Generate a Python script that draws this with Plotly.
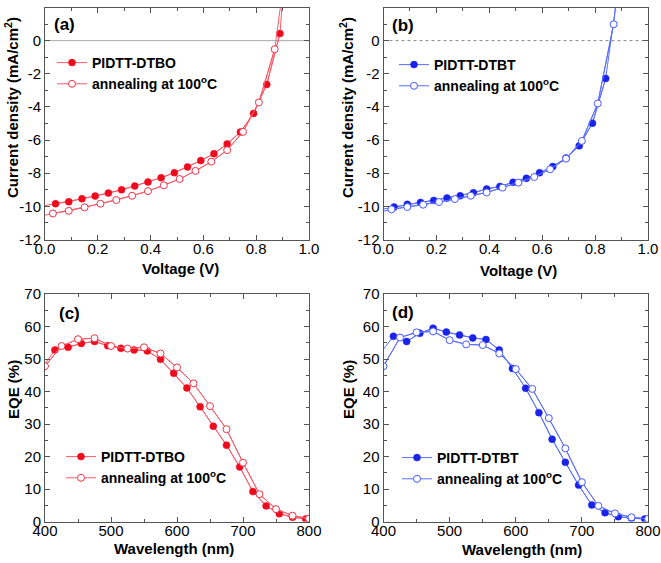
import plotly.graph_objects as go

# ---------------- data ----------------
# (a) J-V, PIDTT-DTBO (first/last points are line-only)
V_a1 = [0.0, 0.04, 0.09, 0.14, 0.19, 0.24, 0.29, 0.34, 0.39, 0.44, 0.49, 0.54, 0.59, 0.64, 0.69, 0.74, 0.79, 0.84, 0.89, 0.905]
J_a1 = [-9.95, -9.84, -9.72, -9.54, -9.38, -9.20, -9.00, -8.77, -8.53, -8.27, -7.97, -7.62, -7.24, -6.82, -6.23, -5.52, -4.39, -2.64, 0.43, 3.5]
V_a2 = [0.0, 0.03, 0.09, 0.15, 0.21, 0.27, 0.33, 0.39, 0.45, 0.51, 0.57, 0.63, 0.69, 0.75, 0.81, 0.87, 0.90]
J_a2 = [-10.53, -10.43, -10.27, -10.06, -9.84, -9.62, -9.36, -9.08, -8.73, -8.35, -7.86, -7.30, -6.61, -5.50, -3.73, -0.52, 3.0]
# (b) J-V, PIDTT-DTBT
V_b1 = [0.0, 0.04, 0.09, 0.14, 0.19, 0.24, 0.29, 0.34, 0.39, 0.44, 0.49, 0.54, 0.59, 0.64, 0.69, 0.74, 0.79, 0.84, 0.89]
J_b1 = [-10.16, -10.04, -9.88, -9.76, -9.64, -9.50, -9.36, -9.18, -8.95, -8.80, -8.55, -8.31, -7.97, -7.60, -7.08, -6.35, -4.98, -2.28, 3.5]
V_b2 = [0.0, 0.03, 0.09, 0.15, 0.21, 0.27, 0.33, 0.39, 0.45, 0.51, 0.57, 0.63, 0.69, 0.75, 0.81, 0.87, 0.885]
J_b2 = [-10.29, -10.18, -10.04, -9.90, -9.74, -9.56, -9.36, -9.16, -8.87, -8.57, -8.23, -7.76, -7.12, -6.05, -3.79, 0.99, 3.2]
# (c) EQE, PIDTT-DTBO
WL_f = [400, 415, 435, 455, 475, 495, 515, 535, 555, 575, 595, 615, 635, 655, 675, 695, 715, 735, 755, 775, 795, 800]
EQE_c1 = [48.5, 52.8, 53.6, 54.8, 55.4, 54.1, 53.3, 52.8, 52.5, 49.9, 45.6, 41.1, 35.3, 29.3, 23.5, 16.8, 9.2, 4.8, 2.4, 1.3, 0.8, 0.7]
WL_o = [400, 425, 450, 475, 500, 525, 550, 575, 600, 625, 650, 675, 700, 725, 750, 775, 800]
EQE_c2 = [47.8, 54.0, 56.1, 56.4, 54.0, 53.2, 53.6, 51.7, 47.4, 42.5, 35.5, 28.4, 18.1, 8.4, 3.8, 1.8, 0.9]
# (d) EQE, PIDTT-DTBT
EQE_d1 = [53.0, 57.0, 55.4, 57.9, 59.5, 58.3, 57.4, 56.5, 56.0, 52.8, 47.1, 41.0, 33.5, 25.3, 18.2, 11.2, 5.1, 2.7, 1.5, 1.0, 0.8, 0.7]
EQE_d2 = [47.8, 56.6, 58.2, 58.5, 55.8, 54.5, 54.3, 51.7, 46.9, 40.8, 31.8, 22.5, 12.1, 4.8, 2.5, 1.3, 0.8]

JV_TICKS = [-12, -10, -8, -6, -4, -2, 0, 2]
JV_TICKTEXT = ["-12", "-10", "-8", "-6", "-4", "-2", "0", "2"]
V_TICKS = [0.0, 0.2, 0.4, 0.6, 0.8, 1.0]
V_TICKTEXT = ["0.0", "0.2", "0.4", "0.6", "0.8", "1.0"]
EQE_TICKS = [0, 10, 20, 30, 40, 50, 60, 70]
WL_TICKS = [400, 500, 600, 700, 800]

NAME_O = "PIDTT-DTBO"
NAME_T = "PIDTT-DTBT"
NAME_ANN = "annealing at 100<sup>o</sup>C"

# ---------------- styles ----------------
FONT = "Liberation Sans, Arial, sans-serif"
RED_LINE = "rgb(250,90,105)"
RED_FILL = "rgb(240,10,30)"
RED_OPEN = "rgb(240,50,70)"
BLUE_LINE = "rgb(90,110,255)"
BLUE_FILL = "rgb(25,35,235)"
BLUE_OPEN = "rgb(70,90,255)"
FRAME = "#555555"
MS = 7

W, H = 661, 563
def px_x(p):
    return p / W
def px_y(p):
    return 1 - p / H

fig = go.Figure()

def add_series(x, y, xa, ya, line_col, mk_col, filled, name, legend, trim_start, trim_end):
    # full line (including line-only ends)
    fig.add_trace(go.Scatter(x=x, y=y, mode="lines", xaxis=xa, yaxis=ya,
                             line=dict(color=line_col, width=1), showlegend=False,
                             hoverinfo="skip"))
    xs = x[(1 if trim_start else 0):(len(x) - 1 if trim_end else len(x))]
    ys = y[(1 if trim_start else 0):(len(y) - 1 if trim_end else len(y))]
    if filled:
        marker = dict(symbol="circle", size=MS, color=mk_col, line=dict(color=mk_col, width=0.5))
    else:
        marker = dict(symbol="circle", size=MS, color="white", line=dict(color=mk_col, width=1))
    fig.add_trace(go.Scatter(x=xs, y=ys, mode="lines+markers", xaxis=xa, yaxis=ya,
                             line=dict(color=line_col, width=1), marker=marker,
                             name=name, legend=legend, showlegend=True, cliponaxis=True))

add_series(V_a1, J_a1, "x", "y", RED_LINE, RED_FILL, True, NAME_O, "legend", True, True)
add_series(V_a2, J_a2, "x", "y", RED_LINE, RED_OPEN, False, NAME_ANN, "legend", True, True)
add_series(V_b1, J_b1, "x2", "y2", BLUE_LINE, BLUE_FILL, True, NAME_T, "legend2", True, True)
add_series(V_b2, J_b2, "x2", "y2", BLUE_LINE, BLUE_OPEN, False, NAME_ANN, "legend2", True, True)
add_series(WL_f, EQE_c1, "x3", "y3", RED_LINE, RED_FILL, True, NAME_O, "legend3", True, True)
add_series(WL_o, EQE_c2, "x3", "y3", RED_LINE, RED_OPEN, False, NAME_ANN, "legend3", False, False)
add_series(WL_f, EQE_d1, "x4", "y4", BLUE_LINE, BLUE_FILL, True, NAME_T, "legend4", True, True)
add_series(WL_o, EQE_d2, "x4", "y4", BLUE_LINE, BLUE_OPEN, False, NAME_ANN, "legend4", False, False)

def axis_style(**kw):
    d = dict(showline=True, linecolor=FRAME, linewidth=1, mirror="allticks",
             ticks="inside", ticklen=5, tickwidth=1, tickcolor=FRAME,
             showgrid=False, zeroline=False, automargin=False,
             tickfont=dict(family=FONT, size=15, color="black"))
    d.update(kw)
    return d

minor_jv_x = dict(ticks="inside", ticklen=3, tickcolor=FRAME, dtick=0.1, showgrid=False)
minor_jv_y = dict(ticks="inside", ticklen=3, tickcolor=FRAME, dtick=1, showgrid=False)
minor_wl = dict(ticks="inside", ticklen=3, tickcolor=FRAME, dtick=50, showgrid=False)
minor_eqe = dict(ticks="inside", ticklen=3, tickcolor=FRAME, dtick=5, showgrid=False)

dom_left = [px_x(45), px_x(309)]
dom_right = [px_x(383.5), px_x(648)]
dom_top = [px_y(239.5), px_y(7.5)]
dom_bot = [px_y(521.5), px_y(294)]

XS = -5  # pull x tick labels closer to the axis

fig.update_layout(
    width=W, height=H, margin=dict(l=0, r=0, t=0, b=0),
    paper_bgcolor="white", plot_bgcolor="white",
    xaxis=axis_style(domain=dom_left, anchor="y", range=[0, 1], tickvals=V_TICKS, ticktext=V_TICKTEXT, minor=minor_jv_x, ticklabelstandoff=XS),
    yaxis=axis_style(domain=dom_top, anchor="x", range=[-12, 2], tickvals=JV_TICKS, ticktext=JV_TICKTEXT, minor=minor_jv_y),
    xaxis2=axis_style(domain=dom_right, anchor="y2", range=[0, 1], tickvals=V_TICKS, ticktext=V_TICKTEXT, minor=minor_jv_x, ticklabelstandoff=XS),
    yaxis2=axis_style(domain=dom_top, anchor="x2", range=[-12, 2], tickvals=JV_TICKS, ticktext=JV_TICKTEXT, minor=minor_jv_y),
    xaxis3=axis_style(domain=dom_left, anchor="y3", range=[400, 800], tickvals=WL_TICKS, minor=minor_wl, ticklabelstandoff=XS),
    yaxis3=axis_style(domain=dom_bot, anchor="x3", range=[0, 70], tickvals=EQE_TICKS, minor=minor_eqe),
    xaxis4=axis_style(domain=dom_right, anchor="y4", range=[400, 800], tickvals=WL_TICKS, minor=minor_wl, ticklabelstandoff=XS),
    yaxis4=axis_style(domain=dom_bot, anchor="x4", range=[0, 70], tickvals=EQE_TICKS, minor=minor_eqe),
    showlegend=True,
)

def legend_style(xp, yp):
    return dict(x=px_x(xp), y=px_y(yp), xanchor="left", yanchor="top",
                bgcolor="rgba(0,0,0,0)", borderwidth=0, tracegroupgap=0,
                font=dict(family=FONT, size=14, color="black", weight="bold"))

fig.update_layout(
    legend=legend_style(52, 47),
    legend2=legend_style(394, 49),
    legend3=legend_style(61, 441),
    legend4=legend_style(397, 442),
)

# zero lines in J-V panels
fig.add_shape(type="line", xref="x domain", yref="y", x0=0, x1=1, y0=0, y1=0,
              line=dict(color="#aaaaaa", width=1), layer="below")
fig.add_shape(type="line", xref="x2 domain", yref="y2", x0=0, x1=1, y0=0, y1=0,
              line=dict(color="#888888", width=1, dash="dot"), layer="below")

bold = dict(family=FONT, color="black", weight="bold")
def ann(text, xp, yp, size, angle=0):
    fig.add_annotation(text=text, x=px_x(xp), y=px_y(yp), xref="paper", yref="paper",
                       showarrow=False, textangle=angle, xanchor="center", yanchor="middle",
                       font=dict(size=size, **bold))

ann("(a)", 64, 24, 17)
ann("(b)", 403, 25, 17)
ann("(c)", 69, 313, 17)
ann("(d)", 403, 312, 17)
ann("Current density (mA/cm<sup>2</sup>)", 12, 108, 15, -90)
ann("Current density (mA/cm<sup>2</sup>)", 347, 108, 15, -90)
ann("EQE (%)", 13, 390, 15, -90)
ann("EQE (%)", 348, 390, 15, -90)
ann("Voltage (V)", 180, 268, 15)
ann("Voltage (V)", 518, 270, 15)
ann("Wavelength (nm)", 174, 548, 15)
ann("Wavelength (nm)", 522, 549, 15)

fig.write_html("out.html")
